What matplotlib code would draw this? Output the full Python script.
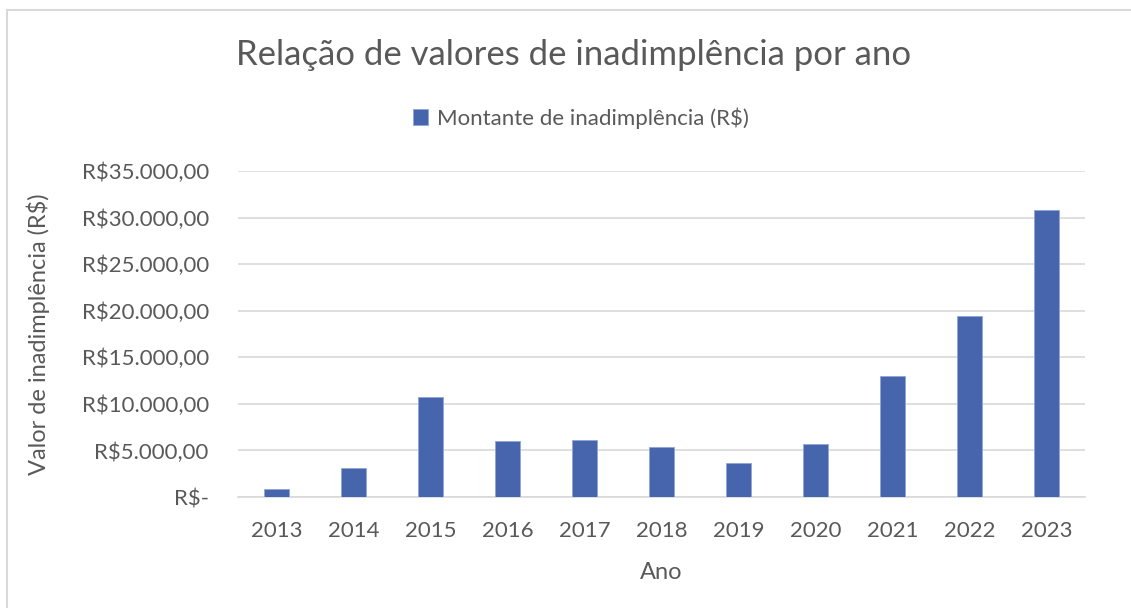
import matplotlib.pyplot as plt
from matplotlib.patches import Rectangle
from matplotlib.ticker import FuncFormatter

plt.rcParams['font.family'] = ['Lato', 'DejaVu Sans']

anos = ['2013', '2014', '2015', '2016', '2017', '2018', '2019', '2020', '2021', '2022', '2023']
montante = [860, 3140, 10750, 6030, 6140, 5390, 3680, 5680, 13010, 19440, 30860]

cor_barra = '#4765ad'
cor_texto = '#595959'
cor_grade = '#d9d9d9'


def formata_real(v, pos):
    if v == 0:
        return 'R$-'
    s = f'{v:,.2f}'.replace(',', 'X').replace('.', ',').replace('X', '.')
    return 'R$' + s


fig = plt.figure(figsize=(11.31, 6.08), dpi=100)
ax = fig.add_axes([238 / 1131, 1 - 497 / 608, (1085 - 238) / 1131, (497 - 171) / 608])

x = range(len(anos))
ax.bar(x, montante, width=0.32, color=cor_barra, edgecolor='#8fa6d6', linewidth=0.6,
       label='Montante de inadimplência (R$)', zorder=3)

ax.set_xlim(-0.5, len(anos) - 0.5)
ax.set_ylim(0, 35000)
ax.set_yticks(range(0, 35001, 5000))
ax.yaxis.set_major_formatter(FuncFormatter(formata_real))
ax.set_xticks(list(x))
ax.set_xticklabels(anos)

ax.grid(axis='y', color=cor_grade, linewidth=1.2, zorder=0)
for s in ['top', 'right', 'left']:
    ax.spines[s].set_visible(False)
ax.spines['bottom'].set_color(cor_grade)
ax.spines['bottom'].set_linewidth(1.2)
ax.tick_params(length=0, labelsize=16, colors=cor_texto)
ax.tick_params(axis='y', pad=21)
ax.tick_params(axis='x', pad=17)

ax.set_xlabel('Ano', fontsize=17, color=cor_texto)
ax.set_ylabel('Valor de inadimplência (R$)', fontsize=17, color=cor_texto)
ax.xaxis.set_label_coords(0.5, (497 - 562) / 326)
ax.yaxis.set_label_coords((50 - 238) / 847, 0.5)

fig.text(574 / 1131, 1 - 55 / 608, 'Relação de valores de inadimplência por ano',
         ha='center', va='center', fontsize=25, color=cor_texto)

ax.legend(loc='center', bbox_to_anchor=(581 / 1131, 1 - 118 / 608),
          bbox_transform=fig.transFigure, frameon=False, fontsize=16,
          labelcolor=cor_texto, handlelength=0.7, handleheight=0.7, handletextpad=0.4)

fig.patches.append(Rectangle((7 / 1131, -0.1), 1.2, 1 - 10 / 608 + 0.1,
                             transform=fig.transFigure, fill=False,
                             edgecolor=cor_grade, linewidth=1.5))

fig.savefig('out.png', dpi=100, facecolor='white')
